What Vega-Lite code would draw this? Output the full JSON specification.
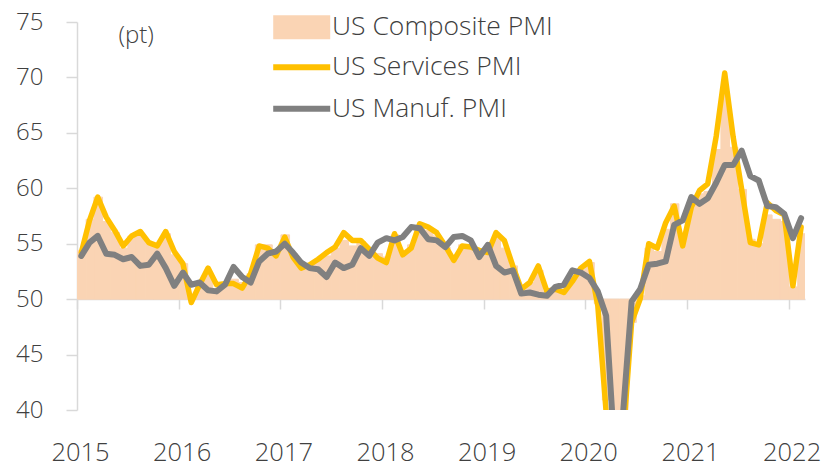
{
  "$schema": "https://vega.github.io/schema/vega-lite/v6.json",
  "width": 728,
  "height": 388,
  "autosize": "none",
  "padding": {"left": 77, "top": 22, "right": 22, "bottom": 57},
  "background": "white",
  "config": {
    "view": {"stroke": null},
    "font": "Open Sans",
    "axis": {"labelFont": "Open Sans", "labelFontWeight": 300, "labelColor": "#404040", "domainColor": "#D9D9D9", "tickColor": "#D9D9D9", "domainWidth": 1.5, "tickWidth": 1.5, "grid": false},
    "legend": {"labelFont": "Open Sans", "labelFontWeight": 300, "labelColor": "#404040", "labelLimit": 400}
  },
  "data": {"values": [
    {"d":"2015-01-01","c":54.4,"s":54.2,"m":53.9},
    {"d":"2015-02-01","c":57.2,"s":57.1,"m":55.1},
    {"d":"2015-03-01","c":59.2,"s":59.2,"m":55.7},
    {"d":"2015-04-01","c":57.0,"s":57.4,"m":54.1},
    {"d":"2015-05-01","c":56.0,"s":56.2,"m":54.0},
    {"d":"2015-06-01","c":54.6,"s":54.8,"m":53.6},
    {"d":"2015-07-01","c":55.7,"s":55.7,"m":53.8},
    {"d":"2015-08-01","c":55.7,"s":56.1,"m":53.0},
    {"d":"2015-09-01","c":55.0,"s":55.1,"m":53.1},
    {"d":"2015-10-01","c":55.0,"s":54.8,"m":54.1},
    {"d":"2015-11-01","c":55.9,"s":56.1,"m":52.8},
    {"d":"2015-12-01","c":54.0,"s":54.3,"m":51.2},
    {"d":"2016-01-01","c":53.2,"s":53.2,"m":52.4},
    {"d":"2016-02-01","c":50.1,"s":49.7,"m":51.3},
    {"d":"2016-03-01","c":51.3,"s":51.3,"m":51.5},
    {"d":"2016-04-01","c":52.4,"s":52.8,"m":50.8},
    {"d":"2016-05-01","c":50.9,"s":51.3,"m":50.7},
    {"d":"2016-06-01","c":51.2,"s":51.4,"m":51.3},
    {"d":"2016-07-01","c":51.8,"s":51.4,"m":52.9},
    {"d":"2016-08-01","c":51.5,"s":51.0,"m":52.0},
    {"d":"2016-09-01","c":52.3,"s":52.3,"m":51.5},
    {"d":"2016-10-01","c":54.9,"s":54.8,"m":53.4},
    {"d":"2016-11-01","c":54.9,"s":54.6,"m":54.1},
    {"d":"2016-12-01","c":54.1,"s":53.9,"m":54.3},
    {"d":"2017-01-01","c":55.8,"s":55.6,"m":55.0},
    {"d":"2017-02-01","c":54.1,"s":53.8,"m":54.2},
    {"d":"2017-03-01","c":53.0,"s":52.8,"m":53.3},
    {"d":"2017-04-01","c":53.2,"s":53.1,"m":52.8},
    {"d":"2017-05-01","c":53.6,"s":53.6,"m":52.7},
    {"d":"2017-06-01","c":53.9,"s":54.2,"m":52.0},
    {"d":"2017-07-01","c":54.6,"s":54.7,"m":53.3},
    {"d":"2017-08-01","c":55.3,"s":56.0,"m":52.8},
    {"d":"2017-09-01","c":54.8,"s":55.3,"m":53.1},
    {"d":"2017-10-01","c":55.2,"s":55.3,"m":54.6},
    {"d":"2017-11-01","c":54.5,"s":54.5,"m":53.9},
    {"d":"2017-12-01","c":54.1,"s":53.7,"m":55.1},
    {"d":"2018-01-01","c":53.8,"s":53.3,"m":55.5},
    {"d":"2018-02-01","c":55.8,"s":55.9,"m":55.3},
    {"d":"2018-03-01","c":54.2,"s":54.0,"m":55.6},
    {"d":"2018-04-01","c":54.9,"s":54.6,"m":56.5},
    {"d":"2018-05-01","c":56.6,"s":56.8,"m":56.4},
    {"d":"2018-06-01","c":56.2,"s":56.5,"m":55.4},
    {"d":"2018-07-01","c":55.7,"s":56.0,"m":55.3},
    {"d":"2018-08-01","c":54.7,"s":54.8,"m":54.7},
    {"d":"2018-09-01","c":53.9,"s":53.5,"m":55.6},
    {"d":"2018-10-01","c":54.9,"s":54.8,"m":55.7},
    {"d":"2018-11-01","c":54.7,"s":54.7,"m":55.3},
    {"d":"2018-12-01","c":54.4,"s":54.4,"m":53.8},
    {"d":"2019-01-01","c":54.4,"s":54.2,"m":54.9},
    {"d":"2019-02-01","c":55.5,"s":56.0,"m":53.0},
    {"d":"2019-03-01","c":54.6,"s":55.3,"m":52.4},
    {"d":"2019-04-01","c":53.0,"s":53.0,"m":52.6},
    {"d":"2019-05-01","c":50.9,"s":50.9,"m":50.5},
    {"d":"2019-06-01","c":51.5,"s":51.5,"m":50.6},
    {"d":"2019-07-01","c":52.6,"s":53.0,"m":50.4},
    {"d":"2019-08-01","c":50.7,"s":50.7,"m":50.3},
    {"d":"2019-09-01","c":51.0,"s":50.9,"m":51.1},
    {"d":"2019-10-01","c":50.9,"s":50.6,"m":51.3},
    {"d":"2019-11-01","c":52.0,"s":51.6,"m":52.6},
    {"d":"2019-12-01","c":52.7,"s":52.8,"m":52.4},
    {"d":"2020-01-01","c":53.3,"s":53.4,"m":51.9},
    {"d":"2020-02-01","c":49.6,"s":49.4,"m":50.7},
    {"d":"2020-03-01","c":40.9,"s":39.8,"m":48.5},
    {"d":"2020-04-01","c":27.0,"s":26.7,"m":36.1},
    {"d":"2020-05-01","c":37.0,"s":37.5,"m":39.8},
    {"d":"2020-06-01","c":47.9,"s":47.9,"m":49.8},
    {"d":"2020-07-01","c":50.3,"s":50.0,"m":50.9},
    {"d":"2020-08-01","c":54.6,"s":55.0,"m":53.1},
    {"d":"2020-09-01","c":54.3,"s":54.6,"m":53.2},
    {"d":"2020-10-01","c":56.3,"s":56.9,"m":53.4},
    {"d":"2020-11-01","c":58.6,"s":58.4,"m":56.7},
    {"d":"2020-12-01","c":55.3,"s":54.8,"m":57.1},
    {"d":"2021-01-01","c":58.7,"s":58.3,"m":59.2},
    {"d":"2021-02-01","c":59.5,"s":59.8,"m":58.6},
    {"d":"2021-03-01","c":59.7,"s":60.4,"m":59.1},
    {"d":"2021-04-01","c":63.5,"s":64.7,"m":60.5},
    {"d":"2021-05-01","c":68.7,"s":70.4,"m":62.1},
    {"d":"2021-06-01","c":63.7,"s":64.6,"m":62.1},
    {"d":"2021-07-01","c":59.9,"s":59.9,"m":63.4},
    {"d":"2021-08-01","c":55.4,"s":55.1,"m":61.1},
    {"d":"2021-09-01","c":55.0,"s":54.9,"m":60.7},
    {"d":"2021-10-01","c":57.6,"s":58.7,"m":58.4},
    {"d":"2021-11-01","c":57.2,"s":58.0,"m":58.3},
    {"d":"2021-12-01","c":57.0,"s":57.6,"m":57.7},
    {"d":"2022-01-01","c":51.1,"s":51.2,"m":55.5},
    {"d":"2022-02-01","c":55.9,"s":56.5,"m":57.3}
  ]},
  "encoding": {
    "x": {
      "field": "d", "type": "temporal", "timeUnit": "utcyearmonth",
      "scale": {"domain": [{"year": 2015, "month": 1, "date": 1, "utc": true}, {"year": 2022, "month": 3, "date": 1, "utc": true}]},
      "axis": {
        "title": null, "format": "%Y", "offset": -111, "tickSize": 10,
        "values": [
          {"year": 2015, "month": 1, "date": 1, "utc": true},
          {"year": 2016, "month": 1, "date": 1, "utc": true},
          {"year": 2017, "month": 1, "date": 1, "utc": true},
          {"year": 2018, "month": 1, "date": 1, "utc": true},
          {"year": 2019, "month": 1, "date": 1, "utc": true},
          {"year": 2020, "month": 1, "date": 1, "utc": true},
          {"year": 2021, "month": 1, "date": 1, "utc": true},
          {"year": 2022, "month": 1, "date": 1, "utc": true}
        ],
        "labelFontSize": 25.5, "labelPadding": 131, "labelOffset": 3, "labelFlush": false, "labelOverlap": false, "labelBaseline": "top"
      }
    }
  },
  "layer": [
    {
      "mark": {"type": "bar", "clip": true, "binSpacing": 0, "stroke": "#FAD4B4", "strokeWidth": 1},
      "encoding": {
        "y": {"field": "c", "type": "quantitative",
          "scale": {"domain": [40, 75], "nice": false, "zero": false},
          "axis": {"values": [40, 45, 50, 55, 60, 65, 70, 75], "tickSize": 11, "labelPadding": 23, "labelFontSize": 24,
            "title": "(pt)", "titleAngle": 0, "titleX": 41, "titleY": 13, "titleAlign": "left", "titleBaseline": "middle",
            "titleFont": "Open Sans", "titleFontSize": 24, "titleFontWeight": 300, "titleColor": "#404040"}},
        "y2": {"datum": 50},
        "fill": {"datum": "US Composite PMI", "type": "nominal",
          "scale": {"domain": ["US Composite PMI"], "range": ["#FAD4B4"]},
          "legend": {"title": null, "orient": "none", "legendX": 196, "legendY": -8, "padding": 0, "direction": "vertical",
            "symbolType": "M-1.09,-2H8.41V2H-1.09Z", "symbolSize": 144, "symbolOffset": -6.5, "symbolStrokeWidth": 0,
            "labelOffset": 39, "labelFontSize": 26.5}}
      }
    },
    {
      "mark": {"type": "line", "clip": true, "strokeWidth": 5.5, "strokeJoin": "round", "strokeCap": "round"},
      "encoding": {
        "x": {"field": "d", "type": "temporal", "timeUnit": "utcyearmonth", "bandPosition": 0.5},
        "y": {"field": "s", "type": "quantitative"},
        "stroke": {"datum": "US Services PMI", "type": "nominal",
          "scale": {"domain": ["US Services PMI", "US Manuf. PMI"], "range": ["#FFC000", "#808080"]},
          "legend": {"title": null, "orient": "none", "legendX": 196, "legendY": 32, "padding": 0, "direction": "vertical",
            "symbolType": "M-1.09,0H8.41", "symbolSize": 144, "symbolOffset": -6.5, "symbolStrokeWidth": 6,
            "labelOffset": 39, "labelFontSize": 26.5, "rowPadding": 14.5}}
      }
    },
    {
      "mark": {"type": "line", "clip": true, "strokeWidth": 6, "strokeJoin": "round", "strokeCap": "round"},
      "encoding": {
        "x": {"field": "d", "type": "temporal", "timeUnit": "utcyearmonth", "bandPosition": 0.5},
        "y": {"field": "m", "type": "quantitative"},
        "stroke": {"datum": "US Manuf. PMI", "type": "nominal"}
      }
    }
  ]
}
